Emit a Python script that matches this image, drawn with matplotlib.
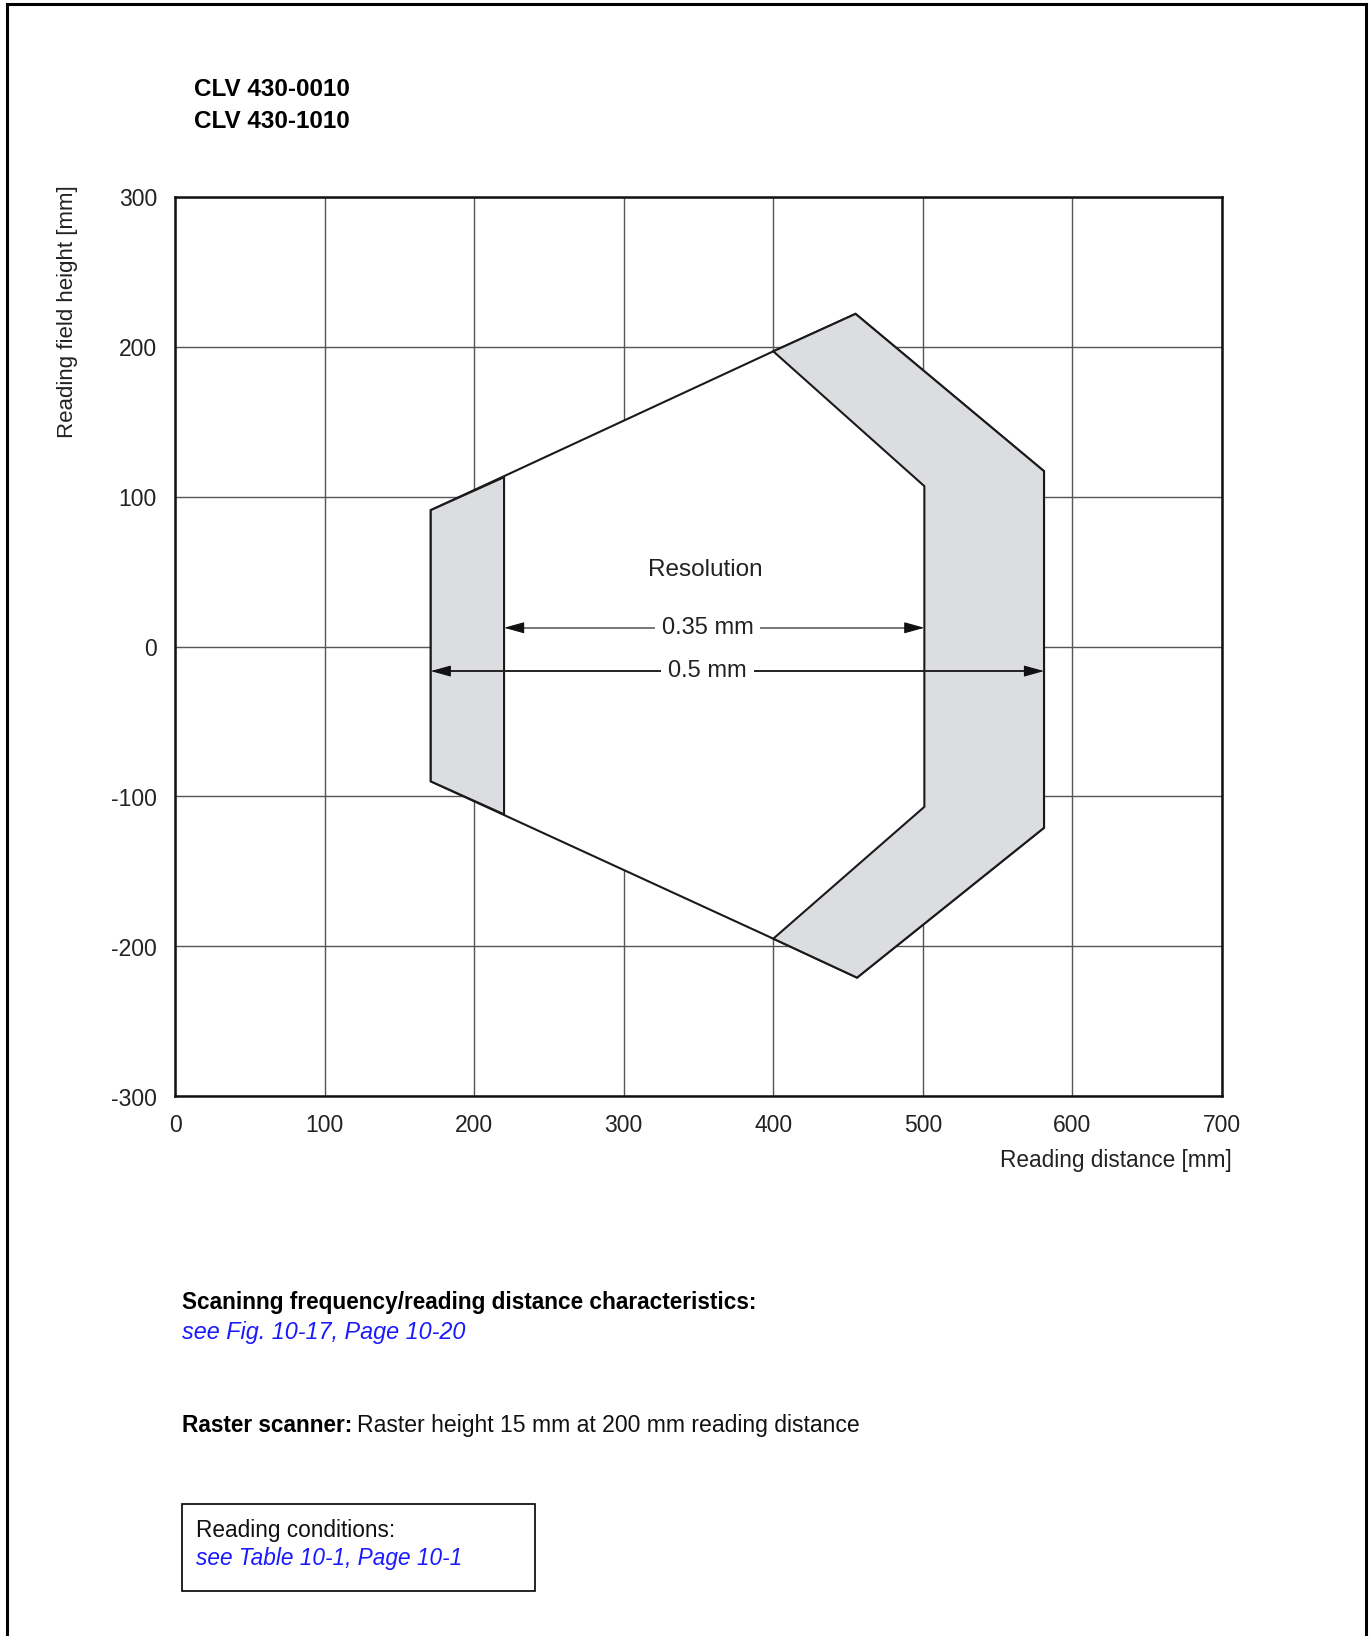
import matplotlib
matplotlib.use("Agg")
import matplotlib.pyplot as plt
import matplotlib.transforms as mtransforms
from matplotlib.patches import Polygon, Rectangle
from matplotlib.lines import Line2D

plt.rcParams['font.family'] = ['Liberation Sans', 'DejaVu Sans']

# ---- data ----
x_ticks = [0, 100, 200, 300, 400, 500, 600, 700]
y_ticks = [-300, -200, -100, 0, 100, 200, 300]
x_tick_labels = ["0", "100", "200", "300", "400", "500", "600", "700"]
y_tick_labels = ["-300", "-200", "-100", "0", "100", "200", "300"]

# overall reading field (outer outline, 0.5 mm)
outer_x = [171, 400, 455, 581, 581, 456, 400, 171]
outer_y = [91, 197, 222, 117, -121, -221, -195, -90]
# left gray band
left_x = [171, 220, 220, 171]
left_y = [91, 113, -112, -90]
# right gray band
right_x = [400, 455, 581, 581, 456, 400, 501, 501]
right_y = [197, 222, 117, -121, -221, -195, -107, 107]

res035_range = [220, 501]
res035_y = 12.5
res05_range = [171, 581]
res05_y = -16.4

W, H = 1370, 1636
fig = plt.figure(figsize=(W / 100, H / 100), dpi=100)


def fx(px):
    return px / W


def fy(py):
    return 1 - py / H


# page border (left, top, right)
for xs, ys in [([7, 7], [4, H]), ([7, 1366], [4, 4]), ([1366, 1366], [4, H])]:
    fig.add_artist(Line2D([fx(v) for v in xs], [fy(v) for v in ys],
                          color='black', lw=2.2, transform=fig.transFigure))

ax = fig.add_axes([fx(175), fy(1096), (1222 - 175) / W, (1096 - 197) / H])
ax.set_xlim(0, 700)
ax.set_ylim(-300, 300)
ax.set_xticks(x_ticks)
ax.set_xticklabels(x_tick_labels)
ax.set_yticks(y_ticks)
ax.set_yticklabels(y_tick_labels)
ax.tick_params(length=0, labelsize=16.5, colors='#222222')
ax.tick_params(axis='x', pad=13)
ax.tick_params(axis='y', pad=13)
offset = mtransforms.ScaledTranslation(0, -3 / 100, fig.dpi_scale_trans)
for lab in ax.get_yticklabels():
    lab.set_va('center')
    lab.set_transform(lab.get_transform() + offset)
ax.grid(True, color='#555555', lw=1.0)
ax.set_axisbelow(True)
for s in ax.spines.values():
    s.set_linewidth(1.8)
    s.set_color('#111111')

# shapes
ax.add_patch(Polygon(list(zip(outer_x, outer_y)), closed=True, facecolor='white',
                     edgecolor='#1a1a1a', lw=1.5, zorder=2))
ax.add_patch(Polygon(list(zip(left_x, left_y)), closed=True, facecolor='#dcdde0',
                     edgecolor='#1a1a1a', lw=1.5, zorder=3))
ax.add_patch(Polygon(list(zip(right_x, right_y)), closed=True, facecolor='#dcdde0',
                     edgecolor='#1a1a1a', lw=1.5, zorder=3))

# resolution arrows
ax.text(354.6, 51, "Resolution", ha='center', va='center', fontsize=17.5,
        color='#222222', zorder=6)
head = 8
for (x0, x1), yv, lab, col in [(res035_range, res035_y, "0.35 mm", '#777777'),
                               (res05_range, res05_y, "0.5 mm", '#222222')]:
    ax.plot([x0 + head, x1 - head], [yv, yv], color=col, lw=1.4, zorder=5)
    for xe, xs in [(x0, x0 + head + 2), (x1, x1 - head - 2)]:
        ax.annotate("", xy=(xe, yv), xytext=(xs, yv),
                    arrowprops=dict(arrowstyle='-|>,head_length=0.9,head_width=0.25',
                                    fc='#111111', ec='#111111', lw=0.8,
                                    shrinkA=0, shrinkB=0, mutation_scale=14),
                    zorder=6)
    ax.text(356, yv, lab, ha='center', va='center', fontsize=17, color='#222222',
            zorder=7, bbox=dict(boxstyle='square,pad=0.3', fc='white', ec='none'))

# axis labels
fig.text(fx(1232), fy(1161), "Reading distance [mm]", ha='right', va='center',
         fontsize=16.3, color='#222222')
fig.text(fx(67), fy(185), "Reading field height [mm]", ha='center', va='top',
         rotation=90, fontsize=16, color='#222222')

# titles
fig.text(fx(194), fy(90), "CLV 430-0010", ha='left', va='center', fontsize=17.5,
         fontweight='bold', color='black')
fig.text(fx(194), fy(122), "CLV 430-1010", ha='left', va='center', fontsize=17.5,
         fontweight='bold', color='black')

# bottom notes
blue = '#1a1aff'
fs = 16.3
fig.text(fx(182), fy(1303), "Scaninng frequency/reading distance characteristics:",
         ha='left', va='center', fontsize=fs, fontweight='bold', color='black')
fig.text(fx(182), fy(1333), "see Fig. 10-17, Page 10-20", ha='left', va='center',
         fontsize=16.8, style='italic', color=blue)

t1 = fig.text(fx(182), fy(1432), "Raster scanner:", ha='left', va='baseline',
              fontsize=fs, fontweight='bold', color='black')
fig.canvas.draw()
bb = t1.get_window_extent(renderer=fig.canvas.get_renderer())
fig.text(bb.x1 / W + 5 / W, fy(1432), "Raster height 15 mm at 200 mm reading distance",
         ha='left', va='baseline', fontsize=16.6, color='#111111')

fig.add_artist(Rectangle((fx(182), fy(1591)), (535 - 182) / W, (1591 - 1504) / H,
                         transform=fig.transFigure, fill=False, ec='black', lw=1.2))
fig.text(fx(196), fy(1530), "Reading conditions:", ha='left', va='center',
         fontsize=fs, color='#111111')
fig.text(fx(196), fy(1559), "see Table 10-1, Page 10-1", ha='left', va='center',
         fontsize=fs, style='italic', color=blue)

fig.savefig("out.png", dpi=100, facecolor='white')
